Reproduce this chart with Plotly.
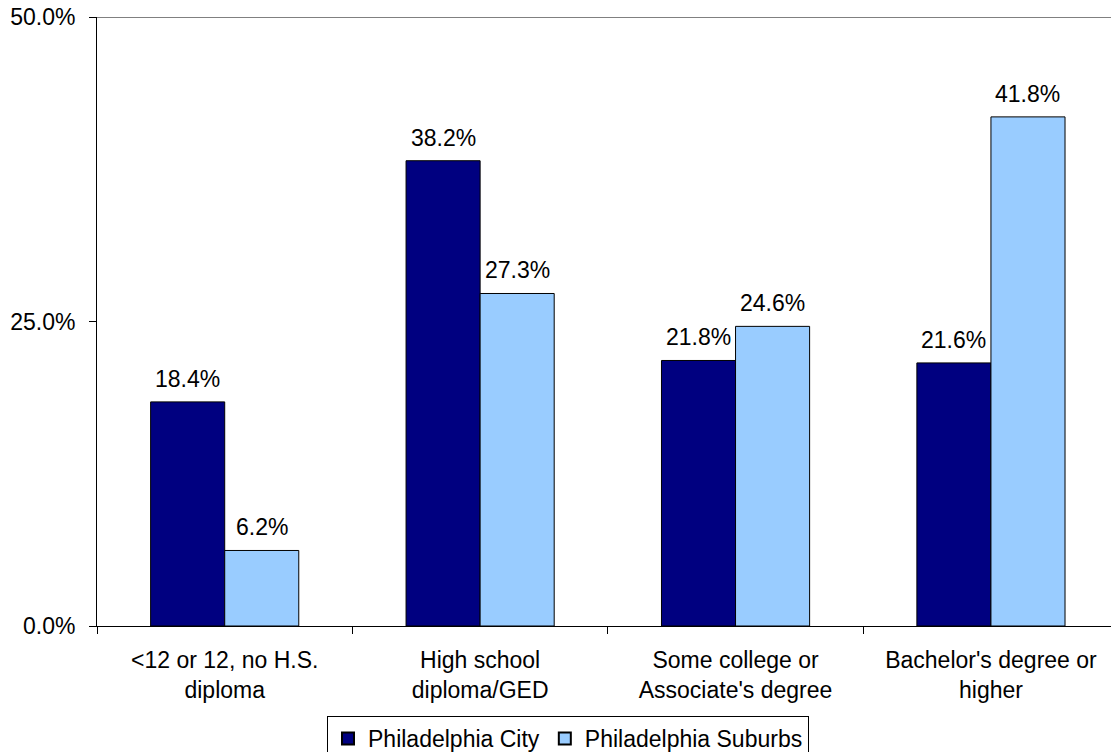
import plotly.graph_objects as go

categories = ["<12 or 12, no H.S.<br>diploma", "High school<br>diploma/GED",
              "Some college or<br>Associate's degree", "Bachelor's degree or<br>higher"]
city = [0.184, 0.382, 0.218, 0.216]
suburbs = [0.062, 0.273, 0.246, 0.418]
series_names = ["Philadelphia City", "Philadelphia Suburbs"]
colors = ["#000080", "#99CCFF"]

FONT = "Liberation Sans, Arial, sans-serif"
FS = 23

fig = go.Figure()
for name, vals, col in zip(series_names, [city, suburbs], colors):
    fig.add_trace(go.Bar(
        x=categories, y=vals, name=name,
        marker=dict(color=col, line=dict(color="black", width=1)),
    ))

# value labels above the bars
for vals, shift in zip([city, suburbs], [-37, 37]):
    for c, v in zip(categories, vals):
        fig.add_annotation(x=c, y=v, text=f"{v*100:.1f}%", showarrow=False,
                           xshift=shift, yshift=8, yanchor="bottom",
                           font=dict(family=FONT, size=FS, color="black"))

fig.add_shape(type="line", xref="paper", yref="y", x0=0, x1=1, y0=0.5, y1=0.5,
              line=dict(color="#808080", width=2))

W, H = 1111, 752
fig.update_layout(
    width=W, height=H,
    margin=dict(l=97, r=0, t=17, b=126, autoexpand=False),
    paper_bgcolor="white", plot_bgcolor="white",
    barmode="group", bargap=0.42, bargroupgap=0,
    font=dict(family=FONT, size=FS, color="black"),
    showlegend=True,
    legend=dict(orientation="h", xref="container", yref="container",
                x=568 / W, xanchor="center", y=1 - 716 / H, yanchor="top",
                bordercolor="black", borderwidth=1,
                font=dict(family=FONT, size=FS, color="black"),
                itemsizing="constant", tracegroupgap=0, itemwidth=30),
    xaxis=dict(range=[-0.5, 3.47], tickson="boundaries", ticks="outside", ticklen=7,
               tickcolor="black", showline=True, linecolor="black", linewidth=1,
               showgrid=False, ticklabelstandoff=13, automargin=False,
               tickfont=dict(family=FONT, size=FS, color="black")),
    yaxis=dict(range=[0, 0.5], tickvals=[0, 0.25, 0.5], tickformat=".1%",
               ticks="outside", ticklen=7, tickcolor="black", showline=True,
               linecolor="black", linewidth=1, showgrid=False, zeroline=False,
               ticklabelstandoff=9, ticklabeloverflow="allow", automargin=False,
               tickfont=dict(family=FONT, size=FS, color="black")),
)

fig.write_html("out.html", config={"displayModeBar": False},
               post_script="document.body.style.margin='0';")
